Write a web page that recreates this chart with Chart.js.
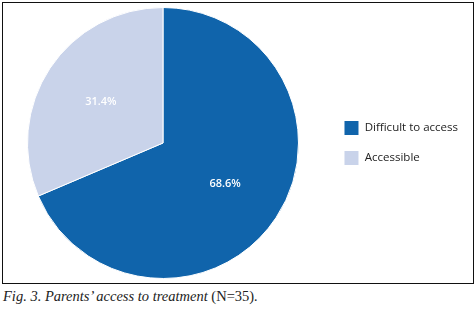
<!DOCTYPE html>
<html>
<head>
<meta charset="utf-8">
<script src="https://cdn.jsdelivr.net/npm/chart.js@4"></script>
<style>
    body { margin: 0; background: #fff; width: 476px; height: 314px; position: relative; overflow: hidden; }
    #box { position: absolute; left: 2px; top: 2px; width: 472px; height: 282px; box-sizing: border-box; border: 1px solid #111; }
    #wrap { position: absolute; left: -6px; top: 0; width: 476px; height: 280px; }
    #caption { position: absolute; left: 3px; top: 288px; font: italic 14.5px/16px "Liberation Serif", serif; color: #222; white-space: nowrap; }
    #caption span { font-style: normal; }
</style>
</head>
<body>
<div id="box">
    <div id="wrap"><canvas id="chartAcesso"></canvas></div>
</div>
<div id="caption">Fig. 3. Parents’ access to treatment <span>(N=35)</span>.</div>
<script>
const categorias = ['Difficult to access', 'Accessible'];
const percentuais = [68.6, 31.4];
const cores = ['#1064ab', '#c9d3ea'];

// rótulos de porcentagem dentro das fatias
const rotulosFatias = {
    id: 'rotulosFatias',
    afterDatasetsDraw(chart) {
        const ctx = chart.ctx;
        const meta = chart.getDatasetMeta(0);
        ctx.save();
        ctx.fillStyle = '#ffffff';
        ctx.font = '600 11px "Open Sans", sans-serif';
        ctx.textAlign = 'center';
        ctx.textBaseline = 'middle';
        meta.data.forEach((arc, i) => {
            const p = arc.getProps(['x', 'y', 'startAngle', 'endAngle', 'outerRadius'], true);
            const meio = (p.startAngle + p.endAngle) / 2;
            const r = p.outerRadius * 0.55;
            ctx.fillText(percentuais[i].toFixed(1) + '%', p.x + Math.cos(meio) * r, p.y + Math.sin(meio) * r);
        });
        ctx.restore();
    }
};

const ctxPizza = document.getElementById('chartAcesso').getContext('2d');
const pizzaChart = new Chart(ctxPizza, {
    type: 'pie',
    data: {
        labels: categorias,
        datasets: [{
            data: percentuais,
            backgroundColor: cores,
            borderColor: '#ffffff',
            borderWidth: 1
        }]
    },
    options: {
        responsive: true,
        maintainAspectRatio: false,
        animation: false,
        layout: {
            padding: { left: 0, right: 5, top: 4, bottom: 4 }
        },
        plugins: {
            legend: {
                position: 'right',
                labels: {
                    boxWidth: 15,
                    boxHeight: 15,
                    padding: 15,
                    color: '#222',
                    font: { family: '"Open Sans", sans-serif', size: 11.5 }
                }
            },
            tooltip: { enabled: false }
        }
    },
    plugins: [rotulosFatias]
});
</script>
</body>
</html>
